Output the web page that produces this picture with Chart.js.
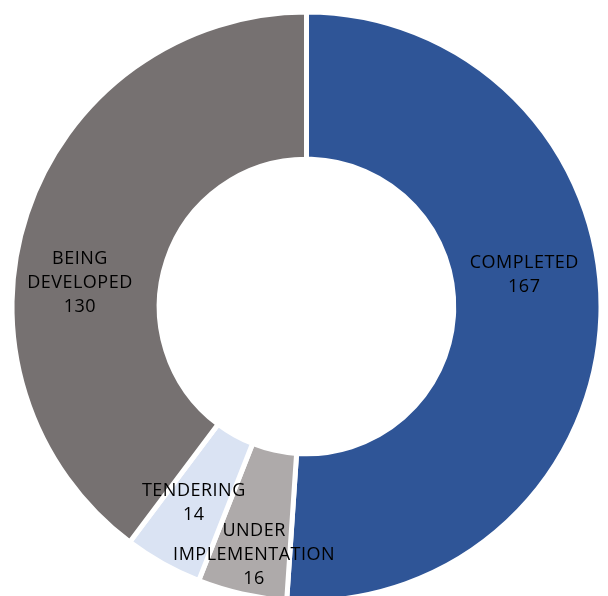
<!DOCTYPE html>
<html>
<head>
<meta charset="utf-8">
<title>Project status</title>
<script src="https://cdn.jsdelivr.net/npm/chart.js@4/dist/chart.umd.min.js"></script>
<style>
    html, body { margin: 0; padding: 0; background: #fff; overflow: hidden; }
    #wrap { position: relative; width: 608px; height: 610px; }
</style>
</head>
<body>
<div id="wrap"><canvas id="statusChart"></canvas></div>
<script>
const categories = [['COMPLETED'], ['UNDER', 'IMPLEMENTATION'], ['TENDERING'], ['BEING', 'DEVELOPED']];
const projectCounts = [167, 16, 14, 130];
const sliceColors = ['#2F5597', '#AEAAAA', '#DAE3F3', '#767171'];

// nudge each label away from the slice centre point (px)
const labelShift = [[-3, -39], [-4, 33], [-5, 4], [-17, 46]];

const sliceLabels = {
    id: 'sliceLabels',
    afterDatasetsDraw(chart) {
        const ctx = chart.ctx;
        const meta = chart.getDatasetMeta(0);
        ctx.save();
        ctx.font = '18px "Open Sans"';
        ctx.letterSpacing = '0.5px';
        ctx.fillStyle = '#000';
        ctx.textAlign = 'center';
        ctx.textBaseline = 'middle';
        const lineH = 24;
        meta.data.forEach((arc, i) => {
            const p = arc.getCenterPoint();
            const lines = [...categories[i], String(projectCounts[i])];
            const x = p.x + labelShift[i][0];
            const y0 = p.y + labelShift[i][1] - (lines.length - 1) * lineH / 2;
            lines.forEach((t, k) => ctx.fillText(t, x, y0 + k * lineH));
        });
        ctx.restore();
    }
};

new Chart(document.getElementById('statusChart'), {
    type: 'doughnut',
    data: {
        labels: categories.map(c => c.join(' ')),
        datasets: [{
            data: projectCounts,
            backgroundColor: sliceColors,
            borderColor: '#fff',
            borderWidth: 5
        }]
    },
    options: {
        responsive: true,
        maintainAspectRatio: false,
        animation: false,
        cutout: '50%',
        layout: { padding: { left: 9.5, right: 4.5, top: 9.5, bottom: 6.5 } },
        plugins: {
            legend: { display: false },
            tooltip: { enabled: false }
        }
    },
    plugins: [sliceLabels]
});
</script>
</body>
</html>
